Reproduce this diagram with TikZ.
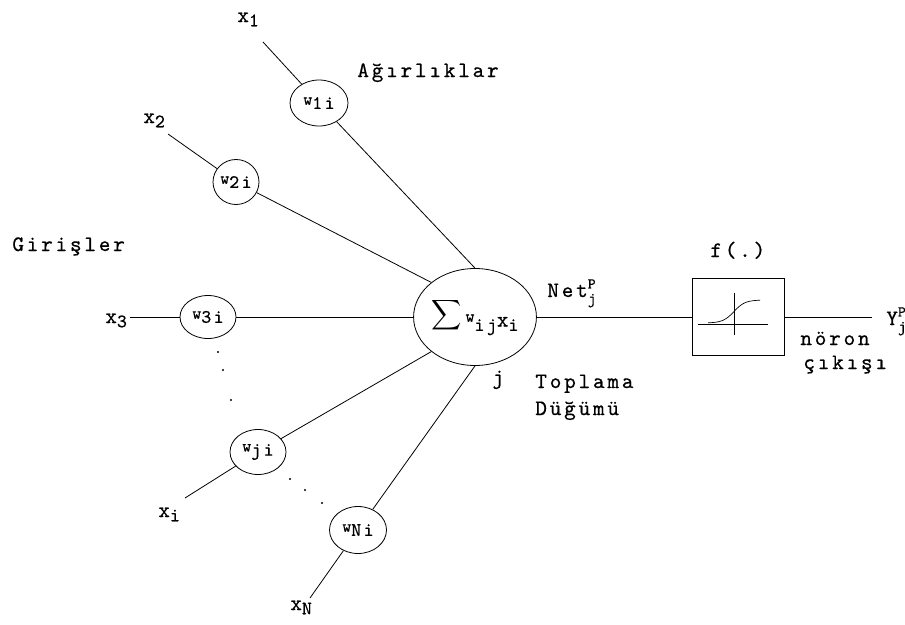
\documentclass[tikz,border=0pt]{standalone}
\usepackage{fontspec}
\usepackage{graphicx}
\usetikzlibrary{shapes.geometric}

% typewriter face, spaced out
\newfontfamily\courfont{lmmono10-regular}[Extension=.otf, LetterSpace=13, FakeBold=0.6]
\newcommand{\tw}[1]{\courfont\fontsize{#1}{#1}\selectfont}
% lowered index, small raised w, stacked super/sub
\newcommand{\lo}[1]{\raisebox{-0.45ex}{\tw{19}#1}}
\newcommand{\wlab}[1]{\raisebox{0.5ex}{\tw{17}w}\lo{#1}}
\newcommand{\supsub}[2]{\rlap{\raisebox{0.9ex}{\tw{15}#1}}\raisebox{-0.7ex}{\tw{16}#2}}

\tikzset{
  weight/.style={draw, ellipse, minimum width=56pt, minimum height=45pt, inner sep=0pt},
  lbl/.style={font=\tw{22}, inner sep=0pt, anchor=base west},
  dot/.style={fill=black},
}

\begin{document}
\begin{tikzpicture}[x=1pt,y=-1pt,line width=0.8pt]
\useasboundingbox (0,0) rectangle (905,624);

% summing node and transfer box
\node[draw, ellipse, minimum width=122pt, minimum height=97pt, inner sep=0pt,
      font=\tw{22}] (sum) at (475,317)
      {\scalebox{2.1}{$\displaystyle\sum$}\,\wlab{ij}x\lo{i}};
\node[draw, minimum width=92pt, minimum height=77pt, inner sep=0pt] (f) at (738,317) {};
\begin{scope}[shift={(f.center)}, line width=0.7pt]
  \draw (-40,7) -- (30,7);
  \draw (-4,-24) -- (-4,18);
  \draw plot[domain=-30:22, samples=30] (\x, {-5.5-11.5*tanh((\x+4)/11)});
\end{scope}

% weights
\node[weight, minimum width=58pt, minimum height=46pt] (w1) at (319,103) {\wlab{1i}};
\node[weight, minimum width=46pt] (w2) at (236,182) {\wlab{2i}};
\node[weight, minimum height=43pt] (w3) at (208,317) {\wlab{3i}};
\node[weight] (wj) at (258,452) {\wlab{ji}};
\node[weight, minimum width=57pt, minimum height=47pt] (wN) at (358,530) {\wlab{Ni}};

% free ends of the inputs
\coordinate (e1) at (263,42);
\coordinate (e2) at (168,134);
\coordinate (e3) at (130,317);
\coordinate (ei) at (185,498);
\coordinate (eN) at (310,598);
\coordinate (out) at (872,317);

\draw (e1) -- (w1);
\draw (e2) -- (w2);
\draw (e3) -- (w3);
\draw (ei) -- (wj);
\draw (eN) -- (wN);

\draw (w1) -- (sum.north);
\draw (w2) -- (sum.north west);
\draw (w3) -- (sum.west);
\draw (wj) -- (sum.south west);
\draw (wN) -- (sum.south);
\draw (sum.east) -- (f.west);
\draw (f.east) -- (out);

% dots for the skipped inputs
\foreach \p in {(218,352),(223,370),(231,400),(290,479),(305,490),(322,503)}
  \fill[dot] \p circle (1.1);

% labels
\node[lbl] (x1) at (237,22) {x\lo{1}};
\node[lbl] (x2) at (143,123) {x\lo{2}};
\node[lbl] (x3) at (105,323) {x\lo{3}};
\node[lbl] (xi) at (158,517) {x\lo{i}};
\node[lbl] (xN) at (290,610) {x\lo{N}};
\node[lbl] (agr) at (357,77) {Ağırlıklar};
\node[lbl] (gir) at (12,251) {Girişler};
\node[lbl] (net) at (547,297) {Net\supsub{P}{j}};
\node[lbl] (jj) at (492,384) {j};
\node[lbl] (top) at (535,388) {Toplama};
\node[lbl] (dug) at (535,415) {Düğümü};
\node[lbl] (fn) at (710,257) {f(.)};
\node[lbl] (nor) at (800,345) {nöron};
\node[lbl] (cik) at (803,369) {çıkışı};
\node[lbl] (y) at (886,325) {Y\supsub{P}{j}};
\end{tikzpicture}
\end{document}
